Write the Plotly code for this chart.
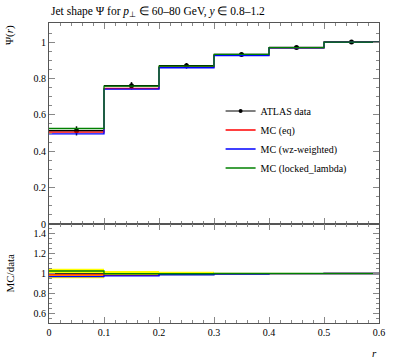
import plotly.graph_objects as go
import numpy as np

edges = [0.0, 0.1, 0.2, 0.3, 0.4, 0.5, 0.6]
data_vals = [0.512, 0.760, 0.870, 0.932, 0.970, 1.0]
data_errs = [0.025, 0.020, 0.015, 0.008, 0.004, 0.0]
mc_eq = [0.505, 0.745, 0.862, 0.928, 0.968, 1.0]
mc_wz = [0.496, 0.742, 0.859, 0.926, 0.968, 1.0]
mc_locked = [0.525, 0.758, 0.868, 0.932, 0.970, 1.0]
x_ticks = [0, 0.1, 0.2, 0.3, 0.4, 0.5, 0.6]
x_tick_labels = ["0", "0.1", "0.2", "0.3", "0.4", "0.5", "0.6"]

FONT = "Liberation Serif"
edges_a = np.array(edges)
centers = (edges_a[:-1] + edges_a[1:]) / 2
halfw = (edges_a[1:] - edges_a[:-1]) / 2
dv = np.array(data_vals)
de = np.array(data_errs)

fig = go.Figure()

def step(vals):
    return list(vals) + [vals[-1]]

series = [("MC (eq)", mc_eq, "#ff0000"),
          ("MC (wz-weighted)", mc_wz, "#0000ff"),
          ("MC (locked_lambda)", mc_locked, "#008000")]

# ratio band (data uncertainty)
rel = de / dv
bx, by = [], []
for i in range(len(dv)):
    bx += [edges[i], edges[i + 1]]
    by += [1 + rel[i], 1 + rel[i]]
for i in reversed(range(len(dv))):
    bx += [edges[i + 1], edges[i]]
    by += [1 - rel[i], 1 - rel[i]]
fig.add_trace(go.Scatter(x=bx, y=by, fill="toself", fillcolor="#ffff00",
                         line=dict(width=0), mode="lines", showlegend=False,
                         xaxis="x2", yaxis="y2", hoverinfo="skip"))
fig.add_trace(go.Scatter(x=edges, y=step([1.0] * len(dv)), mode="lines", line_shape="hv",
                         line=dict(color="#333333", width=1), showlegend=False,
                         xaxis="x2", yaxis="y2"))

# data points (legend handled by a proxy so that it shows line + dot)
fig.add_trace(go.Scatter(x=centers, y=dv, mode="markers", showlegend=False,
                         marker=dict(color="black", size=5),
                         error_x=dict(type="data", array=halfw, color="black", thickness=1.5, width=0),
                         error_y=dict(type="data", array=de, color="black", thickness=1.5, width=0),
                         xaxis="x", yaxis="y"))
fig.add_trace(go.Scatter(x=[None], y=[None], mode="lines+markers", name="ATLAS data",
                         line=dict(color="black", width=1), marker=dict(color="black", size=4),
                         xaxis="x", yaxis="y"))

for name, vals, col in series:
    fig.add_trace(go.Scatter(x=edges, y=step(vals), mode="lines", line_shape="hv",
                             line=dict(color=col, width=1.3), name=name,
                             xaxis="x", yaxis="y"))
    r = np.array(vals) / dv
    fig.add_trace(go.Scatter(x=edges, y=step(r), mode="lines", line_shape="hv",
                             line=dict(color=col, width=1.3), showlegend=False,
                             xaxis="x2", yaxis="y2"))

axcommon = dict(showgrid=False, zeroline=False, ticks="inside", mirror="allticks",
                showline=True, linecolor="#555555", linewidth=1, tickcolor="#888888",
                ticklen=6, tickfont=dict(family=FONT, size=10, color="black"))
minor = dict(ticks="inside", ticklen=3, tickcolor="#888888")

fig.update_layout(
    width=397, height=358,
    margin=dict(l=49, r=13, t=23, b=35),
    plot_bgcolor="white", paper_bgcolor="white",
    font=dict(family=FONT, size=10, color="black"),
    showlegend=True,
    legend=dict(x=0.52, y=0.755, xanchor="left", yanchor="top", bgcolor="rgba(0,0,0,0)",
                font=dict(family=FONT, size=10), tracegroupgap=0, itemwidth=30),
    xaxis=dict(domain=[0, 1], range=[0, 0.6], anchor="y", tickvals=x_ticks,
               showticklabels=False, minor=dict(dtick=0.02, **minor), **axcommon),
    yaxis=dict(domain=[0.33, 1], range=[0, 1.105], anchor="x",
               tickvals=[0, 0.2, 0.4, 0.6, 0.8, 1.0], ticktext=["0", "0.2", "0.4", "0.6", "0.8", "1"],
               minor=dict(dtick=0.05, **minor), **axcommon),
    xaxis2=dict(domain=[0, 1], range=[0, 0.6], anchor="y2", tickvals=x_ticks, ticktext=x_tick_labels,
                minor=dict(dtick=0.02, **minor), **axcommon),
    yaxis2=dict(domain=[0, 0.33], range=[0.5, 1.5], anchor="x2",
                tickvals=[0.6, 0.8, 1.0, 1.2, 1.4], ticktext=["0.6", "0.8", "1", "1.2", "1.4"],
                minor=dict(dtick=0.05, **minor), **axcommon),
    annotations=[
        dict(text="Jet shape Ψ for <i>p</i><sub>⊥</sub> ∈ 60–80 GeV, <i>y</i> ∈ 0.8–1.2",
             xref="paper", yref="paper", x=0.0, y=1.0, xanchor="left", yanchor="bottom",
             yshift=2, showarrow=False, font=dict(family=FONT, size=11.5)),
        dict(text="Ψ(<i>r</i>)", xref="paper", yref="paper", x=0, xshift=-40, y=1.0,
             xanchor="center", yanchor="top", textangle=-90, showarrow=False,
             font=dict(family=FONT, size=11)),
        dict(text="MC/data", xref="paper", yref="paper", x=0, xshift=-40, y=0.165,
             xanchor="center", yanchor="middle", textangle=-90, showarrow=False,
             font=dict(family=FONT, size=11)),
        dict(text="<i>r</i>", xref="paper", yref="paper", x=1.0, y=0, yshift=-22,
             xanchor="right", yanchor="top", showarrow=False,
             font=dict(family=FONT, size=11)),
    ],
)

fig.write_html("out.html", config={"displayModeBar": False},
               post_script="document.body.style.margin='0px';")
